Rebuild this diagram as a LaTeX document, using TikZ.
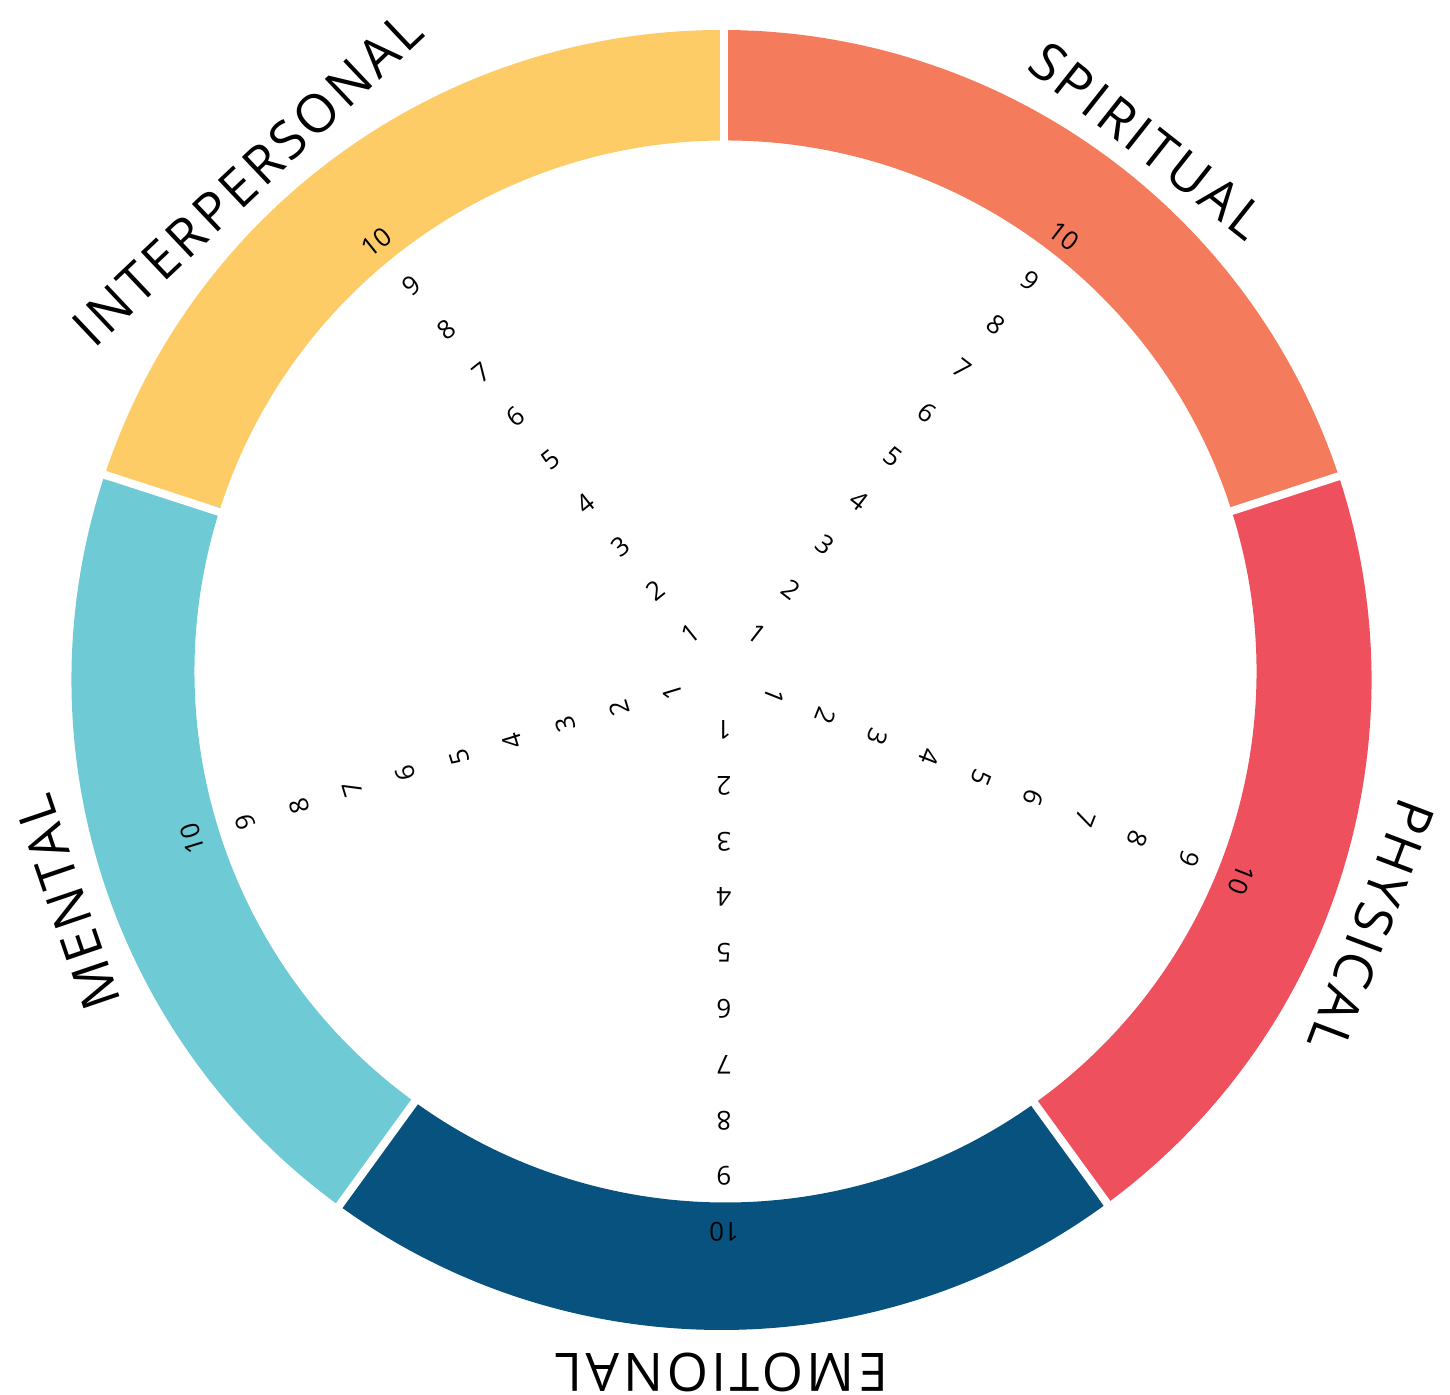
\documentclass[tikz,border=0pt]{standalone}
\usepackage{fontspec}
\setmainfont{Open Sans}
\newfontfamily\wheelfont[LetterSpace=7]{Open Sans}
\definecolor{spiritual}{RGB}{244,123,91}
\definecolor{physical}{RGB}{239,80,94}
\definecolor{emotional}{RGB}{7,82,127}
\definecolor{mental}{RGB}{110,202,212}
\definecolor{interpersonal}{RGB}{254,204,103}
\begin{document}
\begin{tikzpicture}[x=0.5pt,y=0.5pt,
    score/.style={font=\fontsize{13}{13}\selectfont, inner sep=0pt},
    area/.style={font=\wheelfont\fontsize{26.5}{26.5}\selectfont, inner sep=0pt}]
    \useasboundingbox (0,0) rectangle (1450,1395);
    \coordinate (outer) at (721.5,715);
    \coordinate (inner) at (725.5,723.5);
    \coordinate (hub) at (724,719);
    % ring of five areas
    \foreach \col/\from/\to in {spiritual/18/90, interpersonal/90/162, mental/162/234, emotional/234/306, physical/306/378}
        \fill[\col] ([shift={(outer)}]\from:650) arc[start angle=\from, end angle=\to, radius=650]
            -- ([shift={(inner)}]\to:531) arc[start angle=\to, end angle=\from, radius=531] -- cycle;
    \foreach \a in {18,90,162,234,306}
        \draw[white, line width=4pt] (hub) -- ++(\a:720);
    % scales 1..10
    \foreach \name/\a in {sp/52.3, ph/-21.5, em/-90, me/197, ip/128.7}
        \foreach \n in {1,...,10}
            \node[score, rotate=\a-90] (\name-\n) at ([shift={(hub)}]\a:{55.8*\n-2}) {\n};
    \foreach \name/\a/\r/\txt in {spiritual/51.7/687/SPIRITUAL, physical/-20.7/695/PHYSICAL, emotional/-90/692.5/EMOTIONAL, mental/198.8/691/MENTAL, interpersonal/133.4/690/INTERPERSONAL}
        \node[area, rotate=\a-90] (\name) at ([shift={(outer)}]\a:\r) {\txt};
\end{tikzpicture}
\end{document}
